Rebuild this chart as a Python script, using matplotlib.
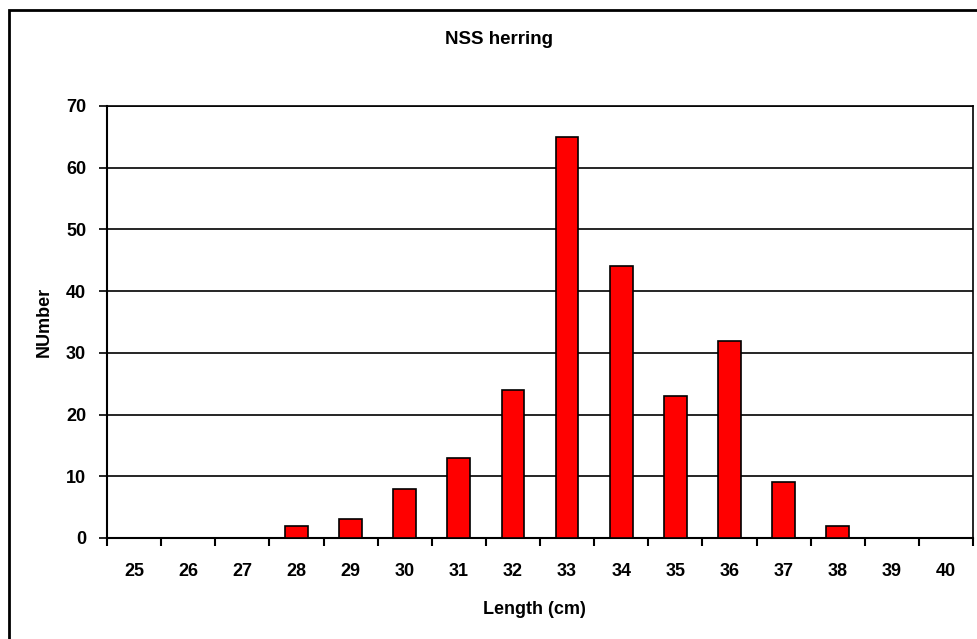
import matplotlib
matplotlib.use("Agg")
import matplotlib.pyplot as plt
import numpy as np
from matplotlib.patches import Rectangle

# length classes (cm) and counts
lengths = [25, 26, 27, 28, 29, 30, 31, 32, 33, 34, 35, 36, 37, 38, 39, 40]
counts = [0, 0, 0, 2, 3, 8, 13, 24, 65, 44, 23, 32, 9, 2, 0, 0]
yticks = [0, 10, 20, 30, 40, 50, 60, 70]

plt.rcParams['font.family'] = ['Liberation Sans', 'DejaVu Sans']
plt.rcParams['font.weight'] = 'bold'

fig = plt.figure(figsize=(9.77, 6.39), dpi=100)
# plot area: x 107..973 px, y 106..538 px
ax = fig.add_axes([107 / 977, 101 / 639, 866 / 977, 432 / 639])

x = np.arange(len(lengths))
ax.bar(x, counts, width=0.42, color='#ff0000', edgecolor='black', linewidth=1.2, zorder=3)

ax.set_xlim(-0.5, len(lengths) - 0.5)
ax.set_ylim(0, 70)
ax.set_yticks(yticks)
ax.set_yticklabels([str(v) for v in yticks], fontsize=13, fontweight='bold')
ax.yaxis.grid(True, color='black', linewidth=1.2, zorder=0)

# labels at category centres, tick marks between categories
ax.set_xticks(x)
ax.set_xticklabels([str(v) for v in lengths], fontsize=13, fontweight='bold')
ax.tick_params(axis='x', which='major', length=0, pad=18)
ax.set_xticks(np.arange(-0.5, len(lengths)), minor=True)
ax.tick_params(axis='x', which='minor', length=6, width=1.5, direction='out', color='black')
ax.tick_params(axis='y', length=6, width=1.2, direction='out', pad=9)

for s in ax.spines.values():
    s.set_color('black')
    s.set_linewidth(1.2)
ax.spines['left'].set_linewidth(1.5)
ax.spines['bottom'].set_linewidth(1.5)

fig.text(499 / 977, 1 - 40 / 639, 'NSS herring', ha='center', va='center', fontsize=13.5, fontweight='bold')
fig.text(534 / 977, 1 - 609 / 639, 'Length (cm)', ha='center', va='center', fontsize=13, fontweight='bold')
fig.text(44.5 / 977, 1 - 322 / 639, 'NUmber', ha='center', va='center', rotation=90, fontsize=13, fontweight='bold')

# chart area border (right and bottom edges fall outside the image)
fig.patches.append(Rectangle((9 / 977, -0.1), 1.0, 1.1 - 10.5 / 639, transform=fig.transFigure,
                             fill=False, edgecolor='black', linewidth=2))

fig.savefig('out.png', dpi=100)
